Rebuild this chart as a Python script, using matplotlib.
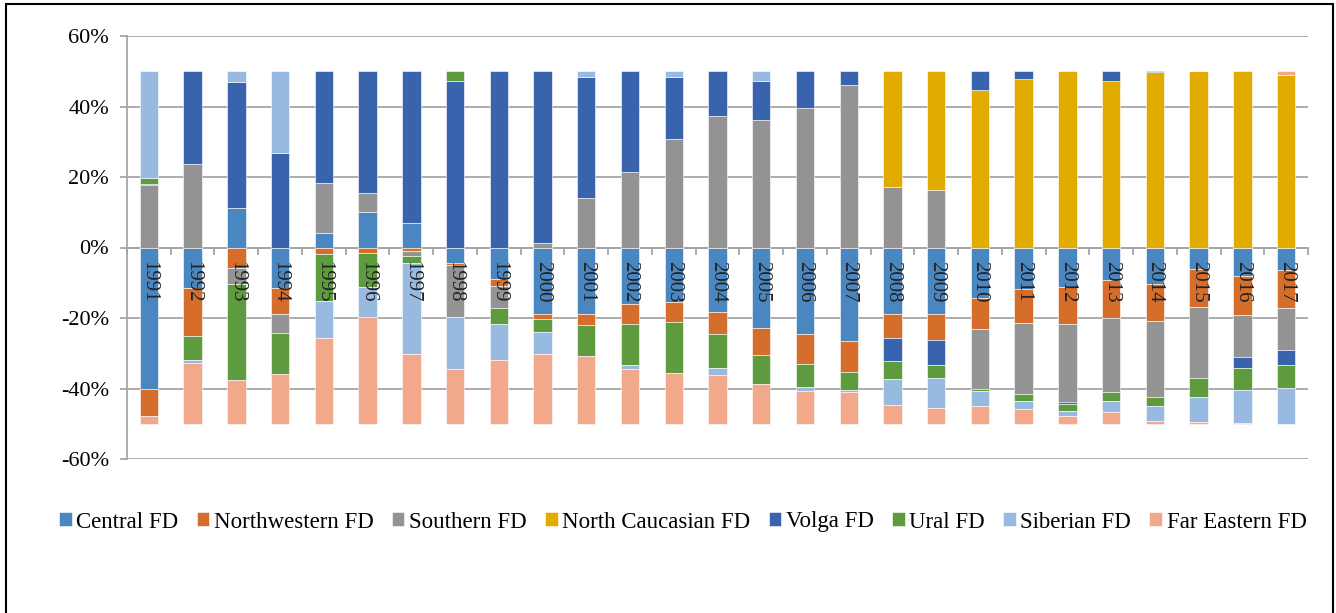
import numpy as np
import matplotlib
matplotlib.use('Agg')
import matplotlib.pyplot as plt
from matplotlib.patches import Rectangle

plt.rcParams['font.family'] = ['Liberation Serif', 'DejaVu Serif']

years = [str(y) for y in range(1991, 2018)]

# shares, % (positive part of each year sums to 50, negative part to -50)
central = [-40, -11.6, 11.1, -11.6, 4.2, 10, 7, -4.5, -9, -18.8, -18.8, -15.9, -15.5, -18.4,
           -22.9, -24.6, -26.5, -18.8, -18.8, -14.4, -11.8, -11.1, -9.3, -10.4, -6.1, -8.2, -6.4]
northwestern = [-7.9, -13.5, -5.7, -7.2, -1.9, -1.6, -0.9, -0.4, -1.9, -1.4, -3.3, -5.8, -5.5, -6.2,
                -7.5, -8.5, -8.7, -6.9, -7.3, -8.7, -9.5, -10.6, -10.6, -10.5, -10.9, -10.9, -10.9]
southern = [17.6, 23.7, -4.7, -5.5, 14.1, 5.5, -1.5, -14.7, -6.4, 1.2, 14, 21.3, 30.7, 37.4,
            36.2, 39.5, 46.1, 17.3, 16.3, -17.1, -20.4, -22.2, -21.2, -21.5, -20, -12.1, -11.7]
north_caucasian = [0, 0, 0, 0, 0, 0, 0, 0, 0, 0, 0, 0, 0, 0,
                   0, 0, 0, 32.7, 33.7, 44.8, 47.9, 50, 47.2, 49.7, 50, 50, 48.8]
volga = [0.4, 26.3, 35.8, 26.7, 31.7, 34.5, 43, 47.2, 50, 48.8, 34.4, 28.7, 17.7, 12.6,
         11, 10.5, 3.9, -6.5, -7.3, 5.2, 2.1, -0.5, 2.8, 0.3, 0, -3, -4.4]
ural = [1.8, -6.9, -27.3, -11.7, -13.3, -9.6, -2.1, 2.8, -4.4, -3.7, -8.8, -11.7, -14.6, -9.5,
        -8.2, -6.4, -5.1, -5.2, -3.6, -0.4, -1.9, -2.1, -2.5, -2.6, -5.5, -6.1, -6.5]
siberian = [30.2, -0.7, 3.1, 23.3, -10.6, -8.4, -25.6, -14.8, -10.2, -6.3, 1.6, -1, 1.6, -2.2,
            2.8, -1.2, -0.8, -7.3, -8.4, -4.4, -2.2, -1.4, -3.2, -4.1, -7, -9.4, -10.1]
far_eastern = [-2.1, -17.3, -12.3, -14, -24.2, -30.4, -19.9, -15.6, -18.1, -19.8, -19.1, -15.6, -14.4, -13.7,
               -11.4, -9.3, -8.9, -5.3, -4.6, -5, -4.2, -2.1, -3.2, -0.9, -0.5, -0.3, 1.2]

names = ['Central FD', 'Northwestern FD', 'Southern FD', 'North Caucasian FD',
         'Volga FD', 'Ural FD', 'Siberian FD', 'Far Eastern FD']
series = [central, northwestern, southern, north_caucasian, volga, ural, siberian, far_eastern]
colors = ['#4A86C0', '#D56E2A', '#939393', '#E2AB00', '#3A63AD', '#5E9A3E', '#98BAE0', '#F2A98B']

fig = plt.figure(figsize=(13.36, 6.13), dpi=100)
ax = fig.add_axes([127 / 1336, 1 - 459 / 613, (1308 - 127) / 1336, (459 - 36) / 613])

x = np.arange(len(years))
pos_bottom = np.zeros(len(years))
neg_bottom = np.zeros(len(years))
handles = []
for name, vals, c in zip(names, series, colors):
    v = np.array(vals, dtype=float)
    bottom = np.where(v >= 0, pos_bottom, neg_bottom)
    h = ax.bar(x, v, 0.42, bottom=bottom, color=c, edgecolor='white', linewidth=0.4,
               label=name, zorder=3)
    handles.append(h)
    pos_bottom += np.clip(v, 0, None)
    neg_bottom += np.clip(v, None, 0)

ax.set_xlim(-0.5, len(years) - 0.5)
ax.set_ylim(-60, 60)
yt = [-60, -40, -20, 0, 20, 40, 60]
ax.set_yticks(yt)
ax.set_yticklabels(['{}%'.format(t) for t in yt], fontsize=16)
ax.yaxis.grid(True, color='#A6A6A6', linewidth=1.3, zorder=0)
ax.set_axisbelow(True)

for s in ['top', 'right']:
    ax.spines[s].set_visible(False)
ax.spines['left'].set_color('#A6A6A6')
ax.spines['left'].set_linewidth(1.3)
ax.spines['bottom'].set_position(('data', 0))
ax.spines['bottom'].set_color('#A6A6A6')
ax.spines['bottom'].set_linewidth(1.3)
ax.tick_params(axis='y', length=5, width=1.3, color='#A6A6A6', pad=8)

# category axis: tick marks between bars, year labels drawn over the bars
ax.set_xticks([])
ax.set_xticks(np.arange(len(years) + 1) - 0.5, minor=True)
ax.tick_params(axis='x', which='minor', length=5, width=1.3, color='#A6A6A6')
for xi, yr in zip(x, years):
    ax.annotate(yr, (xi, 0), xytext=(0, -10), textcoords='offset points',
                rotation=270, ha='center', va='top', fontsize=15, color='#222222', zorder=6)

fig.legend(handles=handles, loc='center', bbox_to_anchor=(0.511, 1 - 522 / 613), ncol=8,
           frameon=False, fontsize=16.5, handlelength=0.55, handleheight=0.55,
           handletextpad=0.2, columnspacing=0.8)

# chart border
fig.patches.append(Rectangle((6 / 1336, -0.05), (1333 - 6) / 1336, 1.05 - 4 / 613,
                             transform=fig.transFigure, fill=False, edgecolor='black',
                             linewidth=1.5))

plt.savefig('out.png', dpi=100)
